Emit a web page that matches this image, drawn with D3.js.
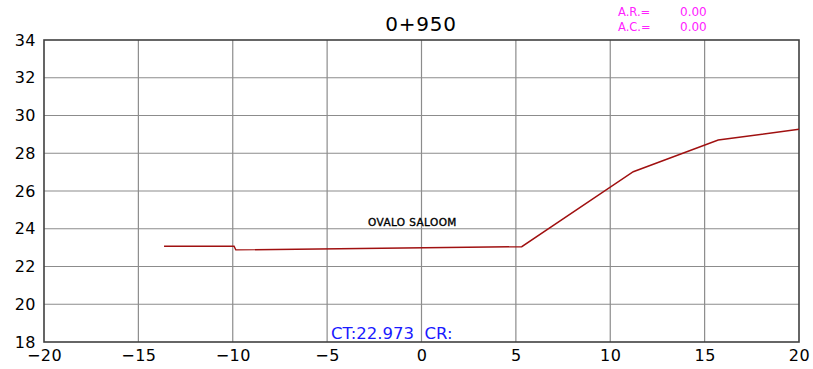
<!DOCTYPE html>
<html>
<head>
<meta charset="utf-8">
<script src="https://cdn.jsdelivr.net/npm/d3@7"></script>
<style>
html,body{margin:0;padding:0;background:#fff;}
svg{display:block;}
</style>
</head>
<body>
<svg id="chart" width="813" height="369"></svg>
<script>
// Data
const profileX = [-13.64, -9.93, -9.84, 5.31, 11.22, 15.72, 20.0];
const profileY = [23.07, 23.07, 22.88, 23.05, 27.02, 28.70, 29.27];
const xTicks = [-20, -15, -10, -5, 0, 5, 10, 15, 20];
const yTicks = [18, 20, 22, 24, 26, 28, 30, 32, 34];
const titleText = "0+950";
const labelText = "OVALO SALOOM";
const ctText = "CT:22.973  CR:";
const arLabels = ["A.R.=", "A.C.="];
const arValues = ["0.00", "0.00"];

const svg = d3.select("#chart");
const m = {left: 44, right: 799, top: 40, bottom: 342};
const x = d3.scaleLinear().domain([-20, 20]).range([m.left, m.right]);
const y = d3.scaleLinear().domain([18, 34]).range([m.bottom, m.top]);
const font = "'DejaVu Sans', sans-serif";
const fmt = d => (d < 0 ? "\u2212" + Math.abs(d) : String(d));

// grid
svg.append("g").selectAll("line").data(xTicks.slice(1, -1)).join("line")
  .attr("x1", d => x(d)).attr("x2", d => x(d))
  .attr("y1", m.top).attr("y2", m.bottom)
  .attr("stroke", "#8c8c8c").attr("stroke-width", 1.2);
svg.append("g").selectAll("line").data(yTicks.slice(1, -1)).join("line")
  .attr("y1", d => y(d)).attr("y2", d => y(d))
  .attr("x1", m.left).attr("x2", m.right)
  .attr("stroke", "#8c8c8c").attr("stroke-width", 1.2);

// frame
svg.append("rect").attr("x", m.left).attr("y", m.top)
  .attr("width", m.right - m.left).attr("height", m.bottom - m.top)
  .attr("fill", "none").attr("stroke", "#404040").attr("stroke-width", 1.6);

// axes labels
const xAxis = d3.axisBottom(x).tickValues(xTicks).tickSize(0).tickPadding(10).tickFormat(fmt);
const gx = svg.append("g").attr("transform", `translate(0,${m.bottom})`).call(xAxis);
gx.select(".domain").remove();
gx.selectAll("text").attr("font-family", font).attr("font-size", 16).attr("fill", "#000")
  .attr("letter-spacing", 0.5).attr("dy", "0.71em").attr("y", 8);

const yAxis = d3.axisLeft(y).tickValues(yTicks).tickSize(0).tickPadding(8).tickFormat(fmt);
const gy = svg.append("g").attr("transform", `translate(${m.left},0)`).call(yAxis);
gy.select(".domain").remove();
gy.selectAll("text").attr("font-family", font).attr("font-size", 16).attr("fill", "#000")
  .attr("letter-spacing", 0.5);

// profile line
const pts = profileX.map((d, i) => [d, profileY[i]]);
svg.append("path").datum(pts)
  .attr("d", d3.line().x(d => x(d[0])).y(d => y(d[1])))
  .attr("fill", "none").attr("stroke", "#a01010").attr("stroke-width", 1.4);

// title
svg.append("text").attr("x", 421).attr("y", 31).attr("text-anchor", "middle")
  .attr("font-family", font).attr("font-size", 20).attr("letter-spacing", 0.8)
  .attr("fill", "#000").text(titleText);

// AR / AC
arLabels.forEach((t, i) => {
  svg.append("text").attr("x", 618).attr("y", 16 + i * 15)
    .attr("font-family", font).attr("font-size", 11.5).attr("fill", "#ff22ff").text(t);
  svg.append("text").attr("x", 680).attr("y", 16 + i * 15)
    .attr("font-family", font).attr("font-size", 12).attr("fill", "#ff22ff").text(arValues[i]);
});

// annotation
svg.append("text").attr("x", 368).attr("y", 226)
  .attr("font-family", font).attr("font-size", 10.5)
  .attr("stroke", "#000").attr("stroke-width", 0.35)
  .attr("letter-spacing", 0.4).attr("fill", "#000").text(labelText);

svg.append("text").attr("x", 331).attr("y", 339).attr("xml:space", "preserve")
  .attr("font-family", font).attr("font-size", 16.5).attr("fill", "#1a1aff").text(ctText);
</script>
</body>
</html>
